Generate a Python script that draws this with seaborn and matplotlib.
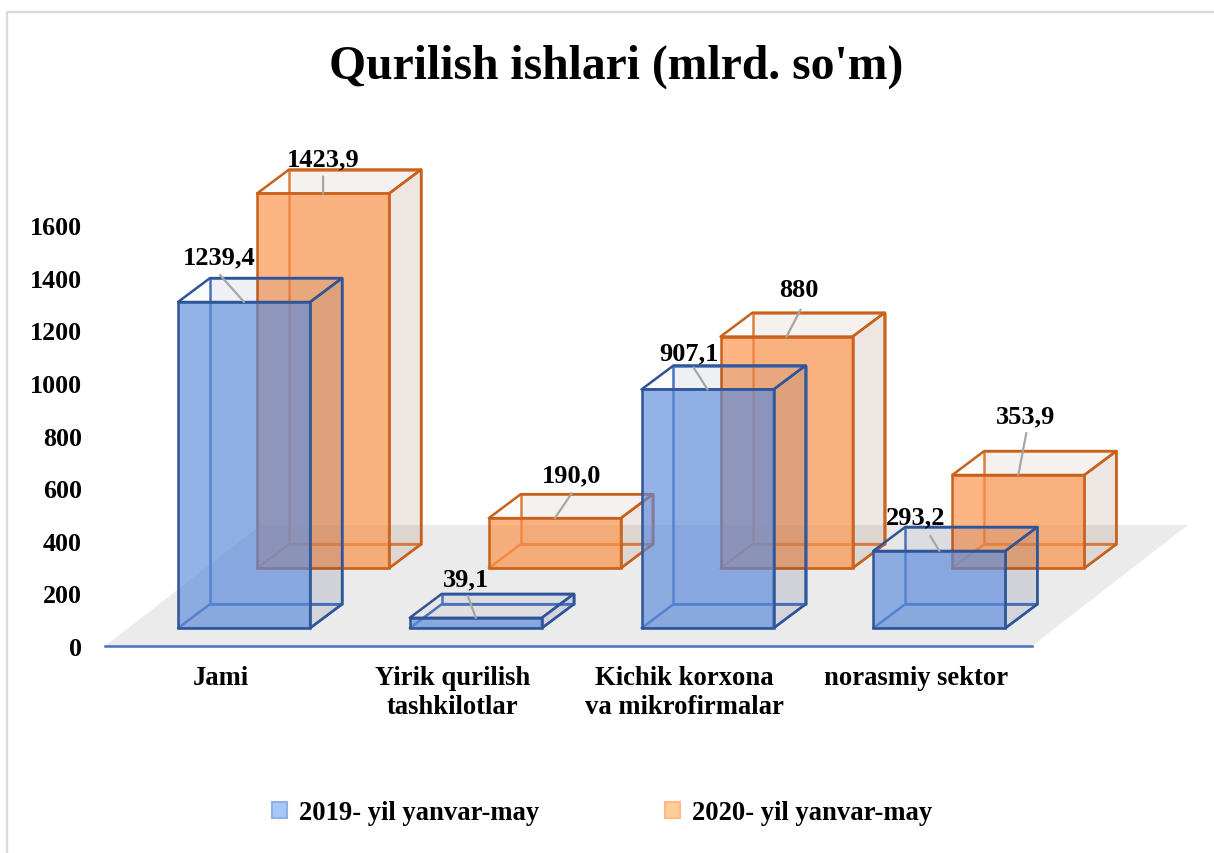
import numpy as np
import pandas as pd
import seaborn as sns
import matplotlib.pyplot as plt
from matplotlib.colors import to_rgba
from matplotlib.lines import Line2D
from matplotlib.patches import Patch, Polygon

categories = ["Jami", "Yirik qurilish\ntashkilotlar", "Kichik korxona\nva mikrofirmalar", "norasmiy sektor"]
values2019 = [1239.4, 39.1, 907.1, 293.2]
values2020 = [1423.9, 190.0, 880.0, 353.9]
labels2019 = ["1239,4", "39,1", "907,1", "293,2"]
labels2020 = ["1423,9", "190,0", "880", "353,9"]
yTicks = [0, 200, 400, 600, 800, 1000, 1200, 1400, 1600]
seriesNames = ["2019- yil yanvar-may", "2020- yil yanvar-may"]

# layout of the fake 3d boxes, x in category units, y in axis units
barWidth = 0.57
depthX = 0.138
depthY = 91
floorX = 0.673
floorY = 460

# pixel offsets (right, up) from the top centre of each box: leader end, label centre
leader2019 = [(-24, 27), (-8, 22), (-14, 22), (-9, 15)]
leader2020 = [(0, 17), (17, 25), (14, 27), (8, 42)]
text2019 = [(-25, 45), (-10, 39), (-19, 37), (-24, 34)]
text2020 = [(0, 35), (17, 43), (12, 47), (7, 59)]


def drawBoxes(ax, values, shift, base, faceColor, edgeColor, innerColor, shadeColor, layer, valueLabels, leaders, textOffsets):
    frame = pd.DataFrame({"position": np.arange(4) + shift, "value": values})
    before = len(ax.patches)
    sns.barplot(
        data = frame, x = "position", y = "value", native_scale = True, width = barWidth,
        bottom = base, color = faceColor, saturation = 1, edgecolor = edgeColor,
        linewidth = 1.8, zorder = layer + 0.5, ax = ax, errorbar = None
    )
    for bar in ax.patches[before:] :
        bar.set_facecolor(to_rgba(faceColor, 0.66))
        bar.set_clip_on(False)

    for position, value, label, leader, offset in zip(frame["position"], values, valueLabels, leaders, textOffsets) :
        left = position - barWidth / 2
        right = position + barWidth / 2
        top = base + value
        faces = [
            ([(left + depthX, base + depthY), (right + depthX, base + depthY), (right + depthX, top + depthY), (left + depthX, top + depthY)], 0.05, innerColor),
            ([(left, base), (right, base), (right + depthX, base + depthY), (left + depthX, base + depthY)], 0.04, innerColor),
            ([(right, base), (right + depthX, base + depthY), (right + depthX, top + depthY), (right, top)], 0.08, edgeColor),
            ([(left, top), (right, top), (right + depthX, top + depthY), (left + depthX, top + depthY)], 0.02, edgeColor),
        ]
        for corners, shade, lineColor in faces :
            ax.add_patch(Polygon(corners, closed = True, facecolor = to_rgba(shadeColor, shade),
                                 edgecolor = lineColor, linewidth = 1.8, joinstyle = "round",
                                 zorder = layer, clip_on = False))
        ax.annotate("", xy = (position, top), xytext = leader, textcoords = "offset pixels",
                    arrowprops = dict(arrowstyle = "-", color = "#a6a6a6", lw = 1.6, shrinkA = 0, shrinkB = 0),
                    annotation_clip = False, zorder = 9)
        ax.annotate(label, xy = (position, top), xytext = offset, textcoords = "offset pixels",
                    ha = "center", va = "center", fontsize = 19, fontweight = "bold", color = "black",
                    annotation_clip = False, zorder = 10)


def main() :
    sns.set_theme(style = "white")
    plt.rcParams["font.family"] = ["Liberation Serif", "DejaVu Serif"]

    fig = plt.figure(figsize = (12.14, 8.54), dpi = 100)
    ax = fig.add_axes([105 / 1214, 1 - 647 / 854, 927 / 1214, 517 / 854])
    ax.patch.set_visible(False)

    ax.add_patch(Polygon(
        [(-0.5, 0), (3.5, 0), (3.5 + floorX, floorY), (-0.5 + floorX, floorY)],
        closed = True, facecolor = "#ebebeb", edgecolor = "none", zorder = 1, clip_on = False
    ))

    drawBoxes(ax, values2020, 0.441, 296, "#fc8f45", "#c8611c", "#e08040", "#7a4020", 2, labels2020, leader2020, text2020)
    drawBoxes(ax, values2019, 0.100, 68, "#5b8adb", "#2f5597", "#4a74bc", "#203864", 3, labels2019, leader2019, text2019)

    ax.set_xlim(-0.5, 3.5)
    ax.set_ylim(0, 1965)
    ax.set_xticks(range(4))
    ax.set_xticklabels(categories, linespacing = 1.25)
    ax.set_yticks(yTicks)
    ax.set_xlabel("")
    ax.set_ylabel("")
    ax.tick_params(axis = "x", length = 0, pad = 13.5, labelsize = 19.2)
    ax.tick_params(axis = "y", length = 0, pad = 16.5, labelsize = 18.7)
    for label in ax.get_xticklabels() + ax.get_yticklabels() :
        label.set_fontweight("bold")
        label.set_color("black")

    sns.despine(ax = ax, left = True, top = True, right = True)
    ax.spines["bottom"].set_color("#4472c4")
    ax.spines["bottom"].set_linewidth(1.8)
    ax.spines["bottom"].set_zorder(5)

    fig.text(616 / 1214, 1 - 67 / 854, "Qurilish ishlari (mlrd. so'm)", ha = "center", va = "center",
             fontsize = 34.3, fontweight = "bold", color = "black")

    handles = [
        Patch(facecolor = "#a9c8f7", edgecolor = "#8fb0e8", linewidth = 1.5),
        Patch(facecolor = "#ffcf99", edgecolor = "#ffb982", linewidth = 1.5),
    ]
    fig.legend(handles, seriesNames, loc = "center", bbox_to_anchor = (602 / 1214, 1 - 814 / 854), ncol = 2,
               frameon = False, prop = dict(size = 19.2, weight = "bold"), handlelength = 0.56, handleheight = 0.56,
               handletextpad = 0.45, columnspacing = 4.7, labelcolor = "black")

    # thin chart border, only top and left survive in the crop
    fig.add_artist(Line2D([7 / 1214, 7 / 1214], [0, 1 - 13 / 854], color = "#d9d9d9", lw = 1.6))
    fig.add_artist(Line2D([7 / 1214, 1], [1 - 13 / 854, 1 - 13 / 854], color = "#d9d9d9", lw = 1.6))

    fig.savefig("out.png", dpi = 100)


if __name__ == "__main__":
    main()
